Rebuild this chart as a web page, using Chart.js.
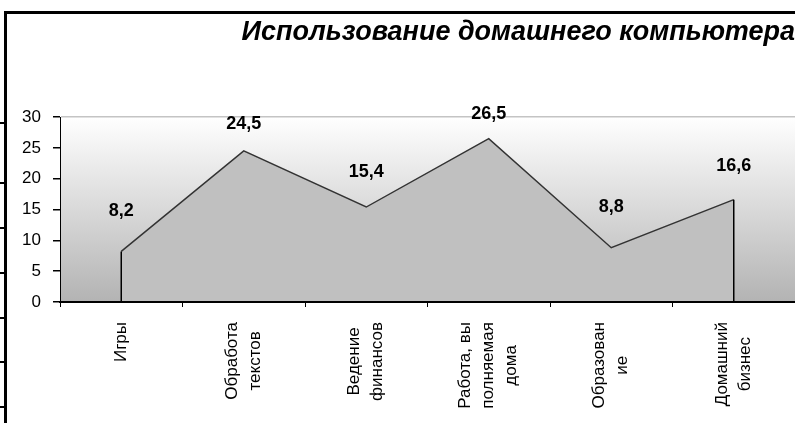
<!DOCTYPE html>
<html>
<head>
<meta charset="utf-8">
<script src="https://cdn.jsdelivr.net/npm/chart.js@4/dist/chart.umd.min.js"></script>
<style>
  html, body { margin: 0; padding: 0; background: #fff; }
  #wrap { position: relative; width: 795px; height: 423px; overflow: hidden; }
  #frame {
    position: absolute; left: 4px; top: 11px; width: 800px; height: 420px;
    border-top: 3px solid #000; border-left: 3px solid #000; pointer-events: none;
  }
  .nick { position: absolute; left: 0; width: 5px; height: 2px; background: #000; }
</style>
</head>
<body>
<div id="wrap">
  <canvas id="usageChart" width="795" height="423"></canvas>
  <div id="frame"></div>
  <div class="nick" style="top:122px"></div>
  <div class="nick" style="top:182px"></div>
  <div class="nick" style="top:227px"></div>
  <div class="nick" style="top:272px"></div>
  <div class="nick" style="top:317px"></div>
  <div class="nick" style="top:361px"></div>
  <div class="nick" style="top:406px"></div>
</div>
<script>
// categories (lines as wrapped in the original)
const categories = [
    ["Игры"],
    ["Обработа", "текстов"],
    ["Ведение", "финансов"],
    ["Работа, вы", "полняемая", "дома"],
    ["Образован", "ие"],
    ["Домашний", "бизнес"]
];
const usage = [8.2, 24.5, 15.4, 26.5, 8.8, 16.6];
const yMin = 0;
const yMax = 30;
const yStep = 5;

const fontFamily = "'Liberation Sans', Arial, sans-serif";

// grey gradient behind the plot
const plotBackground = {
    id: "plotBackground",
    beforeDraw(chart) {
        const { ctx, chartArea: a } = chart;
        const g = ctx.createLinearGradient(0, a.top, 0, a.bottom);
        g.addColorStop(0, "#ffffff");
        g.addColorStop(1, "#b3b3b3");
        ctx.save();
        ctx.fillStyle = g;
        ctx.fillRect(a.left, a.top, a.right - a.left, a.bottom - a.top);
        ctx.restore();
    }
};

// drop lines at the ends of the area + value labels
const areaExtras = {
    id: "areaExtras",
    afterDatasetsDraw(chart) {
        const { ctx, chartArea: a } = chart;
        const pts = chart.getDatasetMeta(0).data;
        const zeroY = chart.scales.y.getPixelForValue(0);
        ctx.save();
        ctx.strokeStyle = "#000";
        ctx.lineWidth = 1.5;
        [pts[0], pts[pts.length - 1]].forEach(p => {
            ctx.beginPath();
            ctx.moveTo(p.x, p.y);
            ctx.lineTo(p.x, zeroY);
            ctx.stroke();
        });
        ctx.fillStyle = "#000";
        ctx.font = "bold 18px " + fontFamily;
        ctx.textAlign = "center";
        ctx.textBaseline = "middle";
        pts.forEach((p, i) => {
            const off = 22 + 0.14 * (p.y - a.top);
            ctx.fillText(usage[i].toFixed(1).replace(".", ","), p.x, p.y - off);
        });
        ctx.restore();
    }
};

// rotated, centred multi-line category labels
const categoryLabels = {
    id: "categoryLabels",
    afterDraw(chart) {
        const { ctx, chartArea: a } = chart;
        const xs = chart.scales.x;
        const lineGap = 23;
        ctx.save();
        ctx.fillStyle = "#000";
        ctx.font = "17px " + fontFamily;
        ctx.textAlign = "center";
        ctx.textBaseline = "middle";
        categories.forEach((lines, i) => {
            const cx = xs.getPixelForValue(i);
            const w = Math.max(...lines.map(l => ctx.measureText(l).width));
            const cy = a.bottom + 20 + w / 2;
            lines.forEach((line, j) => {
                const lx = cx + (j - (lines.length - 1) / 2) * lineGap;
                ctx.save();
                ctx.translate(lx, cy);
                ctx.rotate(-Math.PI / 2);
                ctx.fillText(line, 0, 0);
                ctx.restore();
            });
        });
        ctx.restore();
    }
};

new Chart(document.getElementById("usageChart"), {
    type: "line",
    data: {
        labels: categories.map(c => c.join(" ")),
        datasets: [{
            data: usage,
            fill: "origin",
            backgroundColor: "#c0c0c0",
            borderColor: "#333333",
            borderWidth: 1.5,
            pointRadius: 0,
            tension: 0
        }]
    },
    options: {
        responsive: false,
        animation: false,
        layout: { padding: 0 },
        plugins: {
            legend: { display: false },
            tooltip: { enabled: false },
            title: {
                display: true,
                text: "Использование домашнего компьютера",
                align: "end",
                color: "#000",
                font: { family: fontFamily, size: 27, weight: "bold", style: "italic", lineHeight: 1.2 },
                padding: { top: 16, bottom: 68.6 }
            }
        },
        scales: {
            x: {
                offset: true,
                afterFit(scale) { scale.height = 121; },
                ticks: { display: false },
                grid: {
                    offset: true,
                    drawOnChartArea: false,
                    drawTicks: true,
                    tickLength: 5,
                    color: "#000",
                    tickColor: "#000",
                    z: 1
                },
                border: { color: "#000", width: 2, z: 1 }
            },
            y: {
                min: yMin,
                max: yMax,
                afterFit(scale) { scale.width = 60; },
                ticks: {
                    stepSize: yStep,
                    padding: 12,
                    color: "#000",
                    font: { family: fontFamily, size: 17 }
                },
                grid: {
                    drawTicks: true,
                    tickLength: 7,
                    tickColor: "#000",
                    color: c => (c.tick && c.tick.value === yMax ? "#c4c4c4" : "rgba(0,0,0,0)"),
                    lineWidth: 1.5
                },
                border: { color: "#000", width: 1 }
            }
        }
    },
    plugins: [plotBackground, areaExtras, categoryLabels]
});
</script>
</body>
</html>
